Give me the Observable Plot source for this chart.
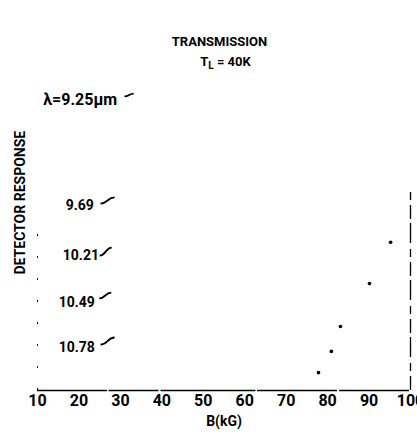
<!DOCTYPE html>
<html>
<head>
<meta charset="utf-8">
<script src="https://cdn.jsdelivr.net/npm/d3@7"></script>
<script src="https://cdn.jsdelivr.net/npm/@observablehq/plot@0.6"></script>
<style>
  html, body { margin: 0; padding: 0; background: #fff; }
  body { width: 417px; height: 432px; overflow: hidden;
         font-family: Roboto, "Liberation Sans", sans-serif; }
  #title { height: 72px; box-sizing: border-box; padding-top: 32px; padding-left: 22px;
           text-align: center; font-weight: 700; font-size: 13px; line-height: 20px; color: #000; }
  #title .sub { padding-left: 12px; }
  #title sub { font-size: 10px; vertical-align: -3px; line-height: 0; }
  #chart svg { overflow: visible; }
</style>
</head>
<body>
<div id="title">
  <div>TRANSMISSION</div>
  <div class="sub">T<sub>L</sub> = 40K</div>
</div>
<div id="chart"></div>
<script>
// Magnetic field axis (kG)
const xTicks = [10, 20, 30, 40, 50, 60, 70, 80, 90, 100];

// Laser wavelengths labelling each transmission trace, with label anchor (B, offset response)
const wavelengths = ["λ=9.25μm", "9.69", "10.21", "10.49", "10.78"];
const labelB = [11.4, 16.8, 16.1, 15.1, 15.1];
const labelLevel = [94.2, 60.1, 43.8, 28.6, 14.0];

// Leading fragment of each trace: start and end (B, response)
const traceB0 = [31.0, 25.2, 25.0, 24.9, 25.2];
const traceB1 = [33.2, 28.6, 27.9, 27.8, 28.6];
const traceR0 = [95.5, 60.7, 43.8, 29.9, 14.9];
const traceR1 = [96.4, 62.7, 46.4, 31.8, 17.2];

// Resonance positions marked on the traces
const resonanceB = [77.8, 80.9, 83.1, 90.1, 95.2];
const resonanceR = [5.8, 12.7, 20.8, 34.7, 48.1];

const labels = wavelengths.map((text, i) => ({text, B: labelB[i], r: labelLevel[i]}));
const traces = traceB0.map((b, i) => ({b0: b, b1: traceB1[i], r0: traceR0[i], r1: traceR1[i]}));
const resonances = resonanceB.map((b, i) => ({B: b, r: resonanceR[i]}));

const font = "Roboto, 'Liberation Sans', sans-serif";

const chart = Plot.plot({
  width: 417,
  height: 360,
  marginLeft: 37,
  marginRight: 7,
  marginTop: 10,
  marginBottom: 42,
  style: {fontFamily: font, fontWeight: "bold", color: "#000", background: "#fff"},
  x: {domain: [10, 100], label: null},
  y: {domain: [0, 100], axis: null},
  marks: [
    // frame: nearly solid base, broken sides
    Plot.ruleY([0], {x1: 10, x2: 100, stroke: "#000", strokeWidth: 1.6, strokeDasharray: "70,1.5,50,2,95,1.5,80,2"}),
    Plot.ruleX([100], {y1: 0, y2: 65, stroke: "#000", strokeWidth: 1.3, strokeDasharray: "14,5,8,6,20,4"}),
    Plot.ruleX([10], {y1: 0, y2: 57, stroke: "#000", strokeWidth: 1, strokeDasharray: "2,20"}),
    Plot.axisX(xTicks, {tickSize: 0, tickPadding: 4, fontSize: 16, fontWeight: "bold", label: null}),
    Plot.text(["B(kG)"], {frameAnchor: "bottom", dy: 35, fontSize: 14, fontWeight: "bold"}),
    Plot.text(["DETECTOR RESPONSE"], {frameAnchor: "left", dx: -17, dy: 38, rotate: -90, fontSize: 14, fontWeight: "bold"}),
    Plot.text(labels, {x: "B", y: "r", text: "text", textAnchor: "start", fontSize: (d, i) => (i === 0 ? 16 : 14), fontWeight: "bold"}),
    Plot.link(traces, {x1: "b0", y1: "r0", x2: "b1", y2: "r1", stroke: "#000", strokeWidth: 1.8, curve: "bump-x"}),
    Plot.dot(resonances, {x: "B", y: "r", r: 1.8, fill: "#000", stroke: "none"})
  ]
});

document.getElementById("chart").append(chart);
</script>
</body>
</html>
